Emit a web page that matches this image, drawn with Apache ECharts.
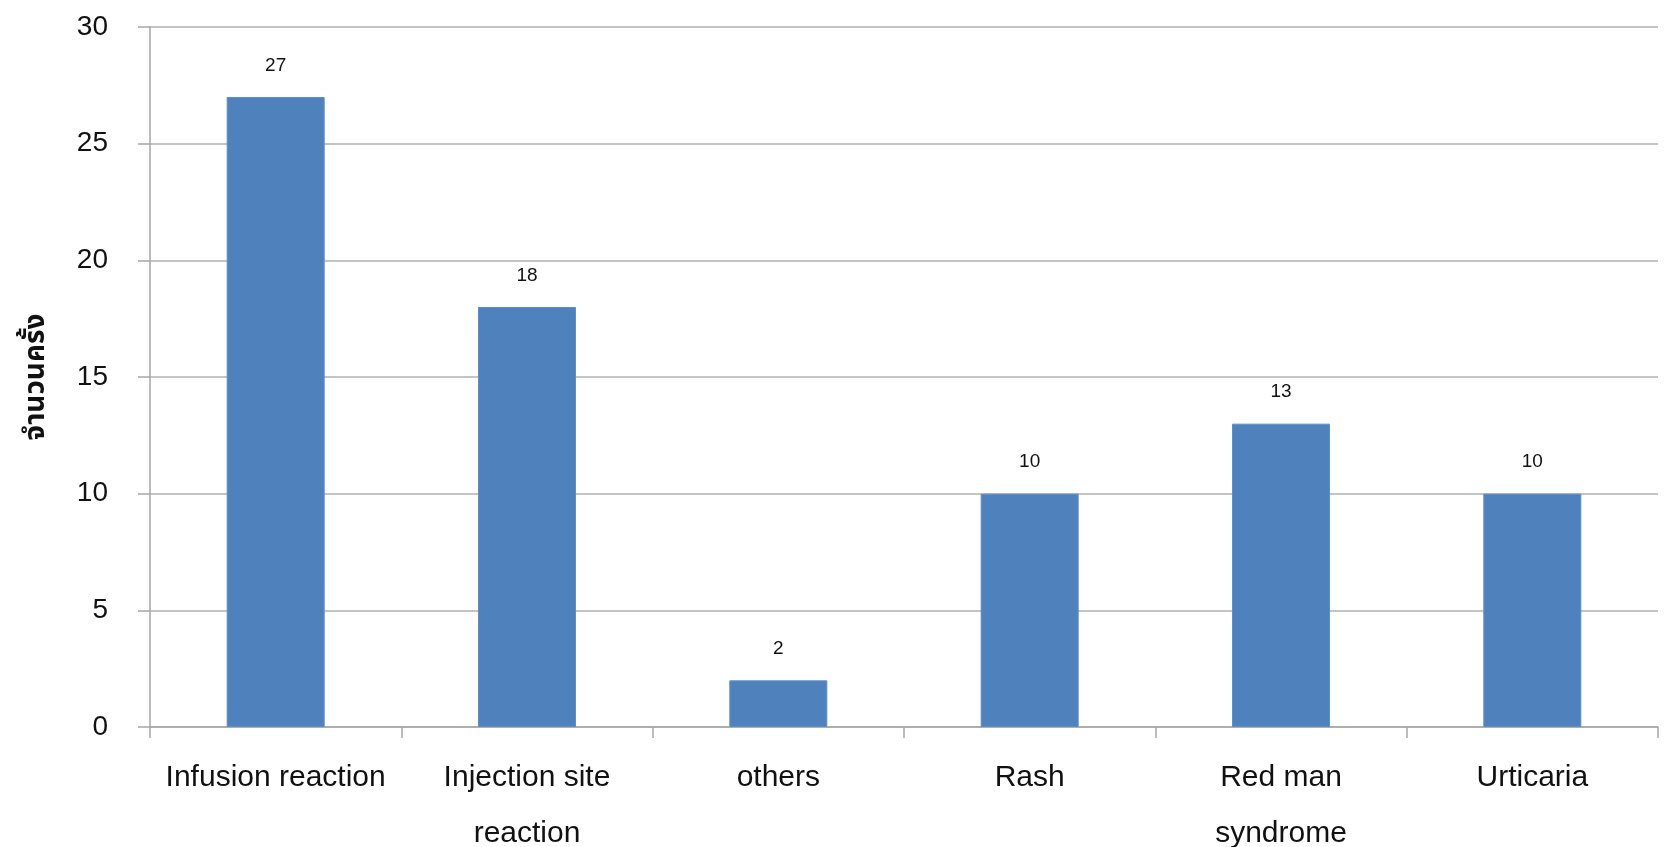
<!DOCTYPE html>
<html>
<head>
<meta charset="utf-8">
<script src="https://cdn.jsdelivr.net/npm/echarts@6/dist/echarts.min.js"></script>
<style>
  html, body { margin: 0; padding: 0; background: #ffffff; overflow: hidden; }
  #chart { width: 1665px; height: 847px; }
</style>
</head>
<body>
<div id="chart"></div>
<script>
// Adverse reaction types and number of occurrences
const categories = [
  'Infusion reaction',
  'Injection site\nreaction',
  'others',
  'Rash',
  'Red man\nsyndrome',
  'Urticaria'
];
const counts = [27, 18, 2, 10, 13, 10];
const yTicks = { min: 0, max: 30, interval: 5 };
const yTitle = 'จำนวนครั้ง';

const chart = echarts.init(document.getElementById('chart'));
const FONT = '"Liberation Sans", Arial, "Noto Sans", sans-serif';
const THAI = '"Noto Sans Thai", "Leelawadee UI", Tahoma, "Noto Sans", "DejaVu Sans", sans-serif';

chart.setOption({
  backgroundColor: '#ffffff',
  animation: false,
  grid: {
    left: 150, right: 7, top: 27, bottom: 120,
    containLabel: false,
    outerBoundsMode: 'none'
  },
  xAxis: {
    type: 'category',
    data: categories,
    axisLine: { show: true, lineStyle: { color: '#a6a6a6', width: 1.5 } },
    axisTick: { show: true, alignWithLabel: false, length: 11, lineStyle: { color: '#a6a6a6', width: 1.5 } },
    axisLabel: {
      interval: 0,
      margin: 23,
      color: '#111111',
      fontFamily: FONT,
      fontSize: 30,
      lineHeight: 56
    },
    splitLine: { show: false }
  },
  yAxis: {
    type: 'value',
    min: yTicks.min,
    max: yTicks.max,
    interval: yTicks.interval,
    name: yTitle,
    nameLocation: 'middle',
    nameRotate: 90,
    nameGap: 98,
    nameTextStyle: { color: '#111111', fontFamily: THAI, fontSize: 28, fontWeight: 'bold' },
    axisLine: { show: true, lineStyle: { color: '#a6a6a6', width: 1.5 } },
    axisTick: { show: true, length: 12, lineStyle: { color: '#a6a6a6', width: 1.5 } },
    axisLabel: {
      margin: 42,
      color: '#111111',
      fontFamily: FONT,
      fontSize: 28,
      padding: [0, 0, 9, 0]
    },
    splitLine: { show: true, lineStyle: { color: '#b0b0b0', width: 1.5 } }
  },
  series: [{
    type: 'bar',
    data: counts,
    barWidth: '39%',
    itemStyle: { color: '#4f81bd', borderColor: '#5d8ecb', borderWidth: 1 },
    label: {
      show: true,
      position: 'top',
      distance: 22,
      color: '#111111',
      fontFamily: FONT,
      fontSize: 19
    }
  }]
});
</script>
</body>
</html>
